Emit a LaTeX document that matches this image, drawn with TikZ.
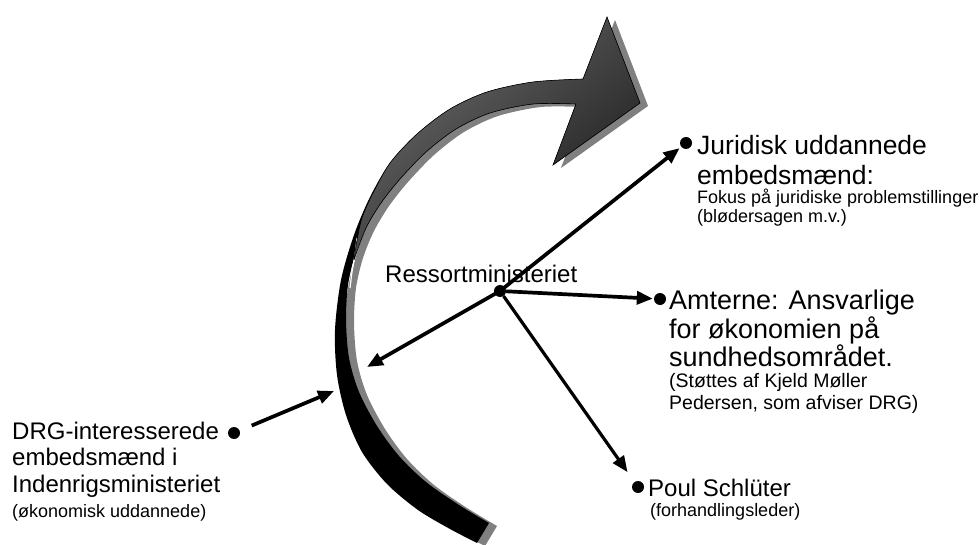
\documentclass[tikz,border=0pt]{standalone}
\usepackage{fontspec}
\setmainfont{Liberation Sans}
\usetikzlibrary{arrows.meta}
\definecolor{shadowgray}{HTML}{808080}
\definecolor{facedark}{HTML}{1C1C1C}
\definecolor{facelight}{HTML}{6C6C6C}
\begin{document}
\begin{tikzpicture}[x=1pt,y=-1pt,
  dot/.style={circle,fill=black,inner sep=0pt,minimum size=12pt},
  big/.style={anchor=base west,inner sep=0pt,font=\fontsize{24}{28}\selectfont},
  bigJ/.style={anchor=base west,inner sep=0pt,font=\fontsize{26.5}{30}\selectfont},
  bigA/.style={anchor=base west,inner sep=0pt,font=\fontsize{27}{30}\selectfont},
  small/.style={anchor=base west,inner sep=0pt,font=\fontsize{18}{20}\selectfont},
  smallA/.style={anchor=base west,inner sep=0pt,font=\fontsize{19.5}{22}\selectfont},
  link/.style={line width=3.7pt,-{Triangle[length=16pt,width=13pt]}},
]
\useasboundingbox[fill=white] (0,0) rectangle (979,545);

% ---- curved ribbon arrow ----
\def\outeredge{(583,79) (533,82) (487,92) (450,109) (417,134) (390,163) (370,197) (354,235) (341,280) (335,330) (337,375) (346,415) (362,452) (387,484) (418,510) (450,529) (477,543)}
\def\inneredge{(489,523) (459,505) (426,482) (399,456) (377,426) (359,392) (349,358) (346,320) (348,285) (355,255) (366,228) (381,203) (400,179) (426,152) (456,129) (490,113) (533,104) (576,104)}
\def\ribbon{(607,17) -- plot[smooth] coordinates {\outeredge} -- plot[smooth] coordinates {\inneredge} -- (553,165) -- (640,103) -- cycle}

% drop shadow
\begin{scope}[shift={(8,3)}]
  \fill[shadowgray] \ribbon;
\end{scope}
% dark back side of the ribbon
\fill[black] \ribbon;
% thin light gap between the back side and its shadow
\draw[white,line width=1.2pt] plot[smooth] coordinates {(357,238) (355,255) (352,272) (350,288)};
% shaded front face with the head
\path[draw=black,line width=0.6pt,left color=facelight,right color=facedark,shading angle=40]
  (607,17) -- plot[smooth] coordinates {(583,79) (533,82) (487,92) (450,109) (417,134) (390,163) (372,195) (362,218) (357,240) (354,260)}
  -- plot[smooth] coordinates {(354,260) (366,228) (381,203) (400,179) (426,152) (456,129) (490,113) (533,104) (576,104)}
  -- (553,165) -- (640,103) -- cycle;

% ---- bullets ----
\node[dot] (rdot) at (500,291) {};
\node[dot] (jdot) at (686,143) {};
\node[dot] (adot) at (660,299) {};
\node[dot] (pdot) at (638,487) {};
\node[dot] (ddot) at (234,433) {};
\coordinate (arcR) at (367,367);
\coordinate (arcD) at (334,391);

% ---- labels ----
\node[big] (ressort) at (385,282) {Ressortministeriet};

\node[bigJ] (jur1) at (697,155) {Juridisk uddannede};
\node[bigJ] (jur2) at (697,185) {embedsmænd:};
\node[small] (jur3) at (697,204) {Fokus på juridiske problemstillinger};
\node[small] (jur4) at (697,223) {(blødersagen m.v.)};

\node[bigA] (amt1) at (669,309) {Amterne: Ansvarlige};
\node[bigA] (amt2) at (669,338) {for økonomien på};
\node[bigA] (amt3) at (669,366) {sundhedsområdet.};
\node[smallA] (amt4) at (669,387) {(Støttes af Kjeld Møller};
\node[smallA] (amt5) at (669,409) {Pedersen, som afviser DRG)};

\node[big] (poul1) at (648,496) {Poul Schlüter};
\node[small] (poul2) at (650,516) {(forhandlingsleder)};

\node[big] (drg1) at (12,439) {DRG-interesserede};
\node[big] (drg2) at (12,465) {embedsmænd i};
\node[big] (drg3) at (12,492) {Indenrigsministeriet};
\node[small] (drg4) at (12,517) {(økonomisk uddannede)};

% ---- connectors ----
\draw[link,shorten <=-2pt,shorten >=2pt] (rdot) -- (jdot);
\draw[link,shorten >=1pt] (rdot) -- (adot);
\draw[link,shorten <=-1pt] (rdot) -- (arcR);
\draw[link,line width=3.2pt,shorten >=12pt] (rdot) -- (pdot);
\draw[link,shorten <=13pt] (ddot) -- (arcD);
\end{tikzpicture}
\end{document}
